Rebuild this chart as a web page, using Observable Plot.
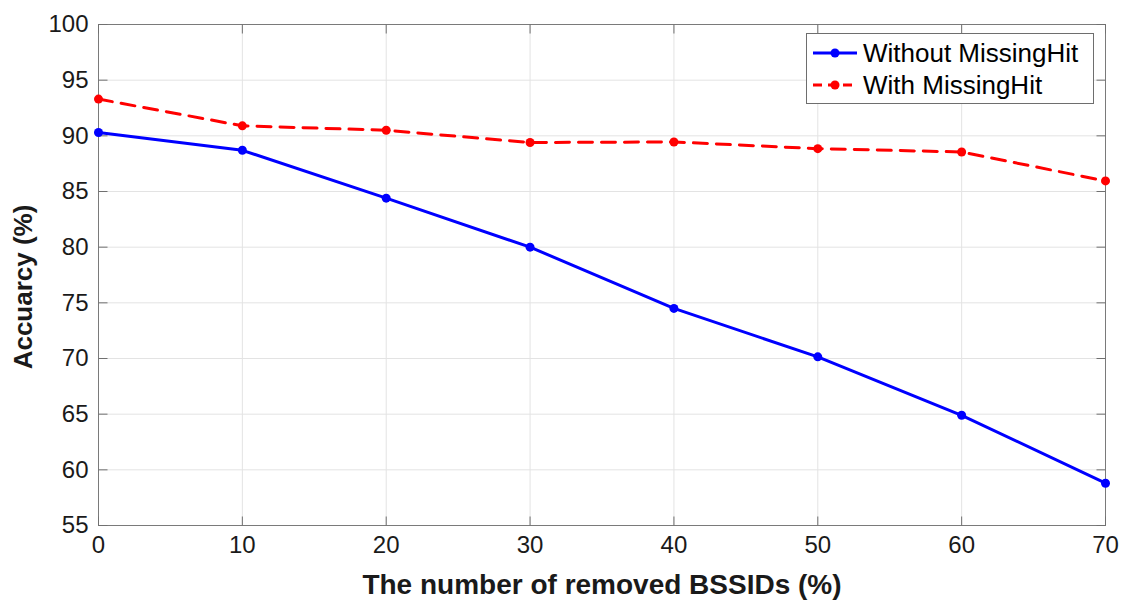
<!DOCTYPE html>
<html>
<head>
<meta charset="utf-8">
<script src="https://cdn.jsdelivr.net/npm/d3@7"></script>
<script src="https://cdn.jsdelivr.net/npm/@observablehq/plot@0.6"></script>
<style>
  html, body { margin: 0; padding: 0; background: #fff; }
  #wrap { position: relative; width: 1122px; height: 600px; font-family: "Liberation Sans", Arial, sans-serif; }
  #legend { position: absolute; left: 806px; top: 33px; width: 288px; height: 71px; border: 1px solid #6e6e6e; background: #fff; box-sizing: border-box; }
  .entry { position: absolute; left: 0; height: 32px; display: flex; align-items: center; font-size: 26px; color: #000; white-space: nowrap; }
  .entry svg { margin-left: 5px; margin-right: 5px; }
</style>
</head>
<body>
<div id="wrap"></div>
<script>
// ---- data ----
const removed = [0, 10, 20, 30, 40, 50, 60, 70];
const withoutMissingHit = [90.3, 88.7, 84.4, 80.0, 74.5, 70.15, 64.9, 58.8];
const withMissingHit = [93.3, 90.9, 90.5, 89.4, 89.45, 88.85, 88.55, 85.95];
const seriesNames = ["Without MissingHit", "With MissingHit"];
const xTicks = [0, 10, 20, 30, 40, 50, 60, 70];
const yTicks = [55, 60, 65, 70, 75, 80, 85, 90, 95, 100];
const xLabel = "The number of removed BSSIDs (%)";
const yLabel = "Accuarcy (%)";

const blue = "#0000ff", red = "#ff0000";
const rows1 = removed.map((x, i) => ({x, y: withoutMissingHit[i]}));
const rows2 = removed.map((x, i) => ({x, y: withMissingHit[i]}));

const tickSym = (dx, dy) => ({draw(ctx) { ctx.moveTo(0, 0); ctx.lineTo(dx, dy); }});
const tickLen = 9;
const tickColor = "#707070";

const chart = Plot.plot({
  width: 1122,
  height: 600,
  marginLeft: 98,
  marginRight: 17,
  marginTop: 24,
  marginBottom: 75,
  style: {fontFamily: "'Liberation Sans', Arial, sans-serif", background: "#fff", color: "#1a1a1a"},
  x: {domain: [0, 70]},
  y: {domain: [55, 100]},
  marks: [
    Plot.gridX(xTicks, {stroke: "#e3e3e3", strokeOpacity: 1}),
    Plot.gridY(yTicks, {stroke: "#e3e3e3", strokeOpacity: 1}),
    Plot.frame({stroke: "#7a7a7a"}),
    // inward ticks (MATLAB style)
    Plot.dot(yTicks, {x: () => 0, y: d => d, symbol: tickSym(tickLen, 0), stroke: tickColor, fill: "none", strokeWidth: 1}),
    Plot.dot(yTicks, {x: () => 70, y: d => d, symbol: tickSym(-tickLen, 0), stroke: tickColor, fill: "none", strokeWidth: 1}),
    Plot.dot(xTicks, {x: d => d, y: () => 55, symbol: tickSym(0, -tickLen), stroke: tickColor, fill: "none", strokeWidth: 1}),
    Plot.dot(xTicks, {x: d => d, y: () => 100, symbol: tickSym(0, tickLen), stroke: tickColor, fill: "none", strokeWidth: 1}),
    Plot.axisX({ticks: xTicks, tickSize: 0, tickPadding: 10, fontSize: 24, label: null, tickFormat: d => String(d)}),
    Plot.axisY({ticks: yTicks, tickSize: 0, tickPadding: 10, fontSize: 24, label: null, tickFormat: d => String(d)}),
    Plot.text([xLabel], {frameAnchor: "bottom", lineAnchor: "bottom", dy: 68, fontSize: 28, fontWeight: "bold", fill: "#1a1a1a"}),
    Plot.text([yLabel], {frameAnchor: "left", textAnchor: "middle", dx: -75, dy: 12, rotate: -90, fontSize: 26, fontWeight: "bold", fill: "#1a1a1a"}),
    Plot.line(rows1, {x: "x", y: "y", stroke: blue, strokeWidth: 3}),
    Plot.dot(rows1, {x: "x", y: "y", r: 4.5, fill: blue}),
    Plot.line(rows2, {x: "x", y: "y", stroke: red, strokeWidth: 3, strokeDasharray: "14,9"}),
    Plot.dot(rows2, {x: "x", y: "y", r: 4.5, fill: red})
  ]
});

const wrap = document.getElementById("wrap");
wrap.appendChild(chart);

// legend
const legend = document.createElement("div");
legend.id = "legend";
const colors = [blue, red];
const dashes = ["none", "9,6"];
seriesNames.forEach((name, i) => {
  const e = document.createElement("div");
  e.className = "entry";
  e.style.top = (i * 32 + 3) + "px";
  e.innerHTML = `<svg width="46" height="20"><line x1="1" y1="10" x2="45" y2="10" stroke="${colors[i]}" stroke-width="3" stroke-dasharray="${dashes[i]}"/><circle cx="23" cy="10" r="4.5" fill="${colors[i]}"/></svg><span>${name}</span>`;
  legend.appendChild(e);
});
wrap.appendChild(legend);
</script>
</body>
</html>
